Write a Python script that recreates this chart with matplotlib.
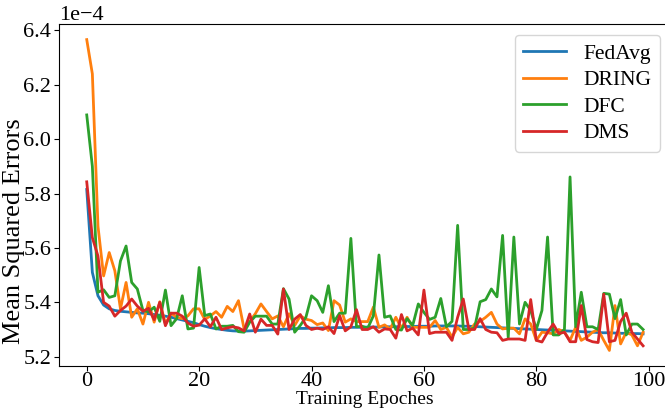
import matplotlib
matplotlib.use('Agg')
import matplotlib.pyplot as plt
import numpy as np

plt.rcParams['font.family'] = ['Liberation Serif', 'DejaVu Serif']
plt.rcParams['mathtext.fontset'] = 'stix'

# values in units of 1e-4
fedavg = [5.815, 5.51, 5.424, 5.39, 5.376, 5.37, 5.367, 5.365, 5.363, 5.361,
          5.36, 5.358, 5.355, 5.352, 5.349, 5.345, 5.34, 5.335, 5.33, 5.325,
          5.318, 5.312, 5.307, 5.303, 5.30, 5.297, 5.295, 5.294, 5.294, 5.295,
          5.296, 5.297, 5.298, 5.299, 5.30, 5.301, 5.302, 5.303, 5.304, 5.304,
          5.305, 5.305, 5.306, 5.306, 5.307, 5.307, 5.307, 5.308, 5.308, 5.308,
          5.309, 5.309, 5.309, 5.31, 5.31, 5.31, 5.311, 5.311, 5.311, 5.312,
          5.312, 5.312, 5.313, 5.313, 5.313, 5.313, 5.313, 5.312, 5.312, 5.311,
          5.31, 5.309, 5.308, 5.307, 5.306, 5.305, 5.304, 5.303, 5.302, 5.301,
          5.30, 5.299, 5.298, 5.297, 5.296, 5.295, 5.294, 5.293, 5.292, 5.291,
          5.29, 5.289, 5.288, 5.288, 5.287, 5.286, 5.286, 5.285, 5.285, 5.284]

dring = [6.366, 6.24, 5.68, 5.497, 5.583, 5.516, 5.376, 5.473, 5.345, 5.376,
         5.32, 5.40, 5.327, 5.402, 5.32, 5.36, 5.345, 5.34, 5.35, 5.376,
         5.376, 5.337, 5.35, 5.366, 5.345, 5.385, 5.366, 5.406, 5.302, 5.33,
         5.358, 5.394, 5.366, 5.339, 5.35, 5.31, 5.358, 5.315, 5.35, 5.338,
         5.333, 5.318, 5.324, 5.296, 5.406, 5.39, 5.327, 5.339, 5.329, 5.329,
         5.329, 5.382, 5.308, 5.317, 5.302, 5.345, 5.305, 5.345, 5.308, 5.308,
         5.308, 5.308, 5.333, 5.30, 5.308, 5.272, 5.308, 5.284, 5.29, 5.32,
         5.33, 5.345, 5.363, 5.32, 5.302, 5.305, 5.305, 5.284, 5.339, 5.32,
         5.26, 5.29, 5.288, 5.284, 5.30, 5.29, 5.26, 5.308, 5.26, 5.272,
         5.29, 5.30, 5.26, 5.223, 5.388, 5.247, 5.29, 5.28, 5.24, 5.29]

dfc = [6.089, 5.90, 5.437, 5.446, 5.418, 5.424, 5.552, 5.607, 5.473, 5.449,
       5.37, 5.365, 5.382, 5.33, 5.445, 5.314, 5.34, 5.424, 5.302, 5.305,
       5.528, 5.351, 5.357, 5.302, 5.312, 5.312, 5.315, 5.292, 5.29, 5.327,
       5.349, 5.349, 5.349, 5.32, 5.32, 5.45, 5.412, 5.29, 5.315, 5.345,
       5.424, 5.406, 5.363, 5.461, 5.329, 5.36, 5.36, 5.635, 5.31, 5.312,
       5.305, 5.35, 5.574, 5.345, 5.35, 5.30, 5.298, 5.34, 5.315, 5.394,
       5.363, 5.337, 5.345, 5.414, 5.31, 5.33, 5.683, 5.30, 5.30, 5.305,
       5.402, 5.41, 5.449, 5.42, 5.646, 5.27, 5.64, 5.32, 5.40, 5.37,
       5.30, 5.37, 5.64, 5.28, 5.28, 5.30, 5.861, 5.31, 5.437, 5.31,
       5.31, 5.30, 5.433, 5.43, 5.34, 5.41, 5.28, 5.32, 5.32, 5.30]

dms = [5.843, 5.638, 5.57, 5.40, 5.386, 5.349, 5.37, 5.386, 5.412, 5.386,
       5.367, 5.378, 5.336, 5.40, 5.314, 5.36, 5.36, 5.349, 5.324, 5.312,
       5.316, 5.339, 5.31, 5.345, 5.30, 5.306, 5.31, 5.306, 5.295, 5.357,
       5.29, 5.338, 5.315, 5.315, 5.283, 5.449, 5.30, 5.338, 5.355, 5.315,
       5.30, 5.305, 5.30, 5.31, 5.285, 5.351, 5.295, 5.31, 5.373, 5.30,
       5.30, 5.31, 5.29, 5.302, 5.30, 5.268, 5.355, 5.295, 5.305, 5.28,
       5.445, 5.285, 5.29, 5.29, 5.29, 5.26, 5.345, 5.412, 5.30, 5.30,
       5.34, 5.30, 5.29, 5.288, 5.26, 5.265, 5.265, 5.265, 5.26, 5.41,
       5.26, 5.254, 5.29, 5.32, 5.285, 5.29, 5.255, 5.255, 5.388, 5.263,
       5.255, 5.252, 5.43, 5.255, 5.26, 5.33, 5.36, 5.29, 5.265, 5.24]

series = {'FedAvg': fedavg, 'DRING': dring, 'DFC': dfc, 'DMS': dms}
epochs = np.arange(len(fedavg))

fig = plt.figure(figsize=(6.65, 4.08), dpi=100)
ax = fig.add_axes([0.0886, 0.103, 0.9203, 0.838])
for name, vals in series.items():
    ax.plot(epochs, np.array(vals) * 1e-4, label=name, linewidth=2)

ax.ticklabel_format(style='sci', axis='y', scilimits=(0, 0))
ax.set_xlabel('Training Epoches', fontsize=14, labelpad=0)
ax.set_ylabel('Mean Squared Errors', fontsize=19)
ax.yaxis.set_label_coords(-0.056, 0.395)
ax.tick_params(labelsize=16)
ax.tick_params(axis='y', pad=2)
ax.tick_params(axis='x', pad=0.5)
ax.yaxis.get_offset_text().set_fontsize(16)
ax.legend(loc='upper right', fontsize=15.5, labelspacing=0.3, handlelength=2.0)
fig.savefig('out.png', dpi=100)
